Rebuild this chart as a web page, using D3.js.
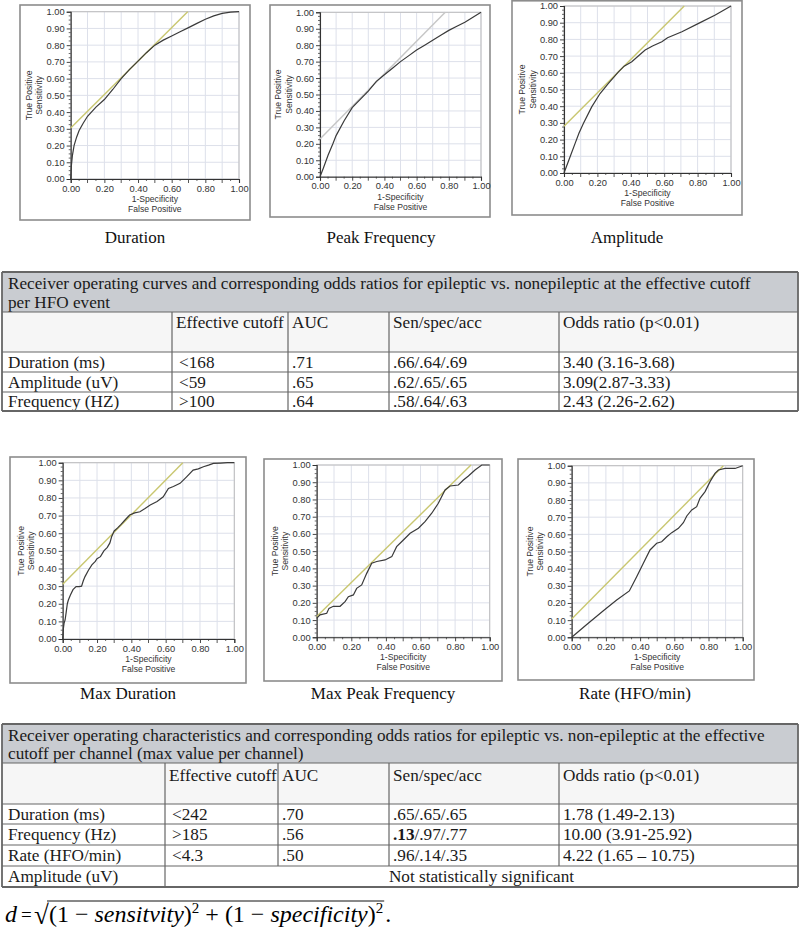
<!DOCTYPE html>
<html><head><meta charset="utf-8">
<script src="https://cdn.jsdelivr.net/npm/d3@7"></script>
<style>body{margin:0;background:#fff}</style>
</head><body>
<svg id="c" width="800" height="932"></svg>
<script>
// ---------------- DATA ----------------
const chartTitles = ["Duration", "Peak Frequency", "Amplitude", "Max Duration", "Max Peak Frequency", "Rate (HFO/min)"];

const durationFPR = [0,0.004,0.01,0.02,0.035,0.05,0.075,0.1,0.15,0.2,0.25,0.3,0.35,0.4,0.45,0.5,0.55,0.6,0.65,0.7,0.75,0.8,0.85,0.9,0.95,1];
const durationTPR = [0,0.08,0.14,0.2,0.25,0.29,0.335,0.375,0.43,0.475,0.535,0.6,0.655,0.705,0.755,0.8,0.83,0.855,0.88,0.905,0.93,0.955,0.975,0.99,0.998,1];

const peakFreqFPR = [0,0.02,0.05,0.08,0.1,0.15,0.2,0.25,0.3,0.35,0.4,0.45,0.5,0.55,0.6,0.65,0.7,0.75,0.8,0.85,0.9,0.95,1];
const peakFreqTPR = [0,0.05,0.13,0.2,0.25,0.34,0.42,0.47,0.52,0.58,0.62,0.66,0.7,0.735,0.77,0.8,0.83,0.86,0.89,0.915,0.94,0.97,1];

const amplitudeFPR = [0,0.036,0.066,0.09,0.116,0.166,0.216,0.266,0.326,0.36,0.406,0.45,0.486,0.53,0.586,0.62,0.706,0.806,0.906,1];
const amplitudeTPR = [0,0.096,0.176,0.24,0.296,0.396,0.476,0.536,0.606,0.64,0.666,0.705,0.736,0.76,0.786,0.81,0.846,0.896,0.946,1];

const maxDurationFPR = [0,0.004,0.008,0.014,0.02,0.027,0.033,0.045,0.06,0.078,0.095,0.11,0.12,0.13,0.15,0.17,0.19,0.2,0.22,0.24,0.26,0.275,0.285,0.3,0.32,0.34,0.363,0.39,0.42,0.45,0.48,0.51,0.55,0.586,0.616,0.645,0.684,0.722,0.76,0.79,0.82,0.85,0.878,0.92,0.96,1];
const maxDurationTPR = [0,0.06,0.09,0.108,0.15,0.2,0.221,0.25,0.28,0.297,0.297,0.3,0.33,0.354,0.39,0.42,0.44,0.455,0.467,0.5,0.52,0.545,0.58,0.613,0.63,0.65,0.675,0.703,0.715,0.722,0.74,0.76,0.78,0.807,0.854,0.865,0.883,0.92,0.958,0.965,0.977,0.986,0.996,0.998,1,1];

const maxPeakFreqFPR = [0,0.019,0.058,0.071,0.096,0.135,0.164,0.183,0.212,0.231,0.26,0.289,0.318,0.347,0.395,0.434,0.462,0.501,0.54,0.588,0.626,0.665,0.703,0.742,0.771,0.819,0.848,0.877,0.915,0.954,1];
const maxPeakFreqTPR = [0.11,0.13,0.139,0.168,0.18,0.18,0.207,0.236,0.246,0.284,0.304,0.371,0.43,0.44,0.449,0.468,0.526,0.565,0.604,0.633,0.671,0.72,0.778,0.855,0.878,0.884,0.913,0.936,0.971,1,1];

const rateFPR = [0,0.088,0.185,0.263,0.337,0.38,0.419,0.458,0.497,0.526,0.556,0.585,0.624,0.653,0.673,0.702,0.731,0.75,0.78,0.809,0.838,0.858,0.897,0.955,1];
const rateTPR = [0,0.075,0.155,0.217,0.27,0.353,0.431,0.509,0.548,0.557,0.586,0.61,0.635,0.668,0.707,0.742,0.761,0.81,0.849,0.907,0.955,0.975,0.984,0.984,1];

// tangent (cutoff) lines: intercept and slope
const tangentIntercepts = [0.305, 0.23, 0.28, 0.31, 0.12, 0.107];
const tangentSlopes = [1.0, 0.99, 1.0, 0.986, 0.987, 1.007];
const tangentColors = ["#c9c770", "#c6c6c6", "#c9c770", "#c9c770", "#c9c770", "#c9c770"];

const yTickValues = [0,0.1,0.2,0.3,0.4,0.5,0.6,0.7,0.8,0.9,1];
const yTickLabels = ["0.00","0.10","0.20","0.30","0.40","0.50","0.60","0.70","0.80","0.90","1.00"];
const xTickValues = [0,0.2,0.4,0.6,0.8,1];
const xTickLabels = ["0.00","0.20","0.40","0.60","0.80","1.00"];
const yAxisTitle = ["True Positive", "Sensitivity"];
const xAxisTitle = ["1-Specificity", "False Positive"];

const tableColumns = ["", "Effective cutoff", "AUC", "Sen/spec/acc", "Odds ratio (p<0.01)"];
const table1Title = ["Receiver operating curves and corresponding odds ratios for epileptic vs. nonepileptic at the effective cutoff", "per HFO event"];
const table1Rows = [
  ["Duration (ms)", "<168", ".71", ".66/.64/.69", "3.40 (3.16-3.68)"],
  ["Amplitude (uV)", "<59", ".65", ".62/.65/.65", "3.09(2.87-3.33)"],
  ["Frequency (HZ)", ">100", ".64", ".58/.64/.63", "2.43 (2.26-2.62)"]
];
const table2Title = ["Receiver operating characteristics and corresponding odds ratios for epileptic vs. non-epileptic at the effective", "cutoff per channel (max value per channel)"];
const table2Rows = [
  ["Duration (ms)", "<242", ".70", ".65/.65/.65", "1.78 (1.49-2.13)"],
  ["Frequency (Hz)", ">185", ".56", ".13/.97/.77", "10.00 (3.91-25.92)"],
  ["Rate (HFO/min)", "<4.3", ".50", ".96/.14/.35", "4.22 (1.65 \u2013 10.75)"]
];
const table2BoldPrefix = [null, ".13", null];
const table2Footer = ["Amplitude (uV)", "Not statistically significant"];

// ---------------- LAYOUT ----------------
const svg = d3.select("#c");
const charts = [
  {fpr: durationFPR, tpr: durationTPR, box:[20,5,250,220], plot:[70.7,11.7,239,179], title:[135,243]},
  {fpr: peakFreqFPR, tpr: peakFreqTPR, box:[270,5,490,217], plot:[320,12.3,481,176.7], title:[381,243]},
  {fpr: amplitudeFPR, tpr: amplitudeTPR, box:[512,0.8,742,215], plot:[564,6,731,173], title:[627,243]},
  {fpr: maxDurationFPR, tpr: maxDurationTPR, box:[10,457,246,683], plot:[62.7,462.7,234.3,639], title:[128,699]},
  {fpr: maxPeakFreqFPR, tpr: maxPeakFreqTPR, box:[264,459,502,681], plot:[316.7,465,489.7,637.3], title:[383,699]},
  {fpr: rateFPR, tpr: rateTPR, box:[518,459,754,680], plot:[571.7,465.7,742.7,637.3], title:[635,699]}
];
const sans = "'Liberation Sans', Arial, sans-serif";
const serif = "'Liberation Serif', 'Times New Roman', serif";

charts.forEach((c, i) => {
  const g = svg.append("g");
  const [bx0, by0, bx1, by1] = c.box;
  const [px0, py0, px1, py1] = c.plot;
  const x = d3.scaleLinear().domain([0, 1]).range([px0, px1]);
  const y = d3.scaleLinear().domain([0, 1]).range([py1, py0]);

  g.append("rect").attr("x", bx0).attr("y", by0).attr("width", bx1 - bx0).attr("height", by1 - by0)
    .attr("fill", "#fff").attr("stroke", "#8c8c8c").attr("stroke-width", 1.6);

  const grid = d3.range(0, 11).map(k => k / 10);
  g.selectAll(".gx").data(grid).join("line")
    .attr("x1", d => x(d)).attr("x2", d => x(d)).attr("y1", py0).attr("y2", py1)
    .attr("stroke", "#dde0ea").attr("stroke-width", 1);
  g.selectAll(".gy").data(grid).join("line")
    .attr("y1", d => y(d)).attr("y2", d => y(d)).attr("x1", px0).attr("x2", px1)
    .attr("stroke", "#dde0ea").attr("stroke-width", 1);
  g.append("rect").attr("x", px0).attr("y", py0).attr("width", px1 - px0).attr("height", py1 - py0)
    .attr("fill", "none").attr("stroke", "#bdbdbd").attr("stroke-width", 1);

  const yMinor = d3.range(0, 41).map(k => k / 40).filter(v => Math.round(v * 40) % 4 !== 0);
  g.selectAll(".ym").data(yMinor).join("line")
    .attr("x1", px0 - 2).attr("x2", px0).attr("y1", d => y(d)).attr("y2", d => y(d))
    .attr("stroke", "#444").attr("stroke-width", 0.8);
  const xMinor = d3.range(0, 21).map(k => k / 20).filter(v => Math.round(v * 20) % 2 !== 0);
  g.selectAll(".xm").data(xMinor).join("line")
    .attr("y1", py1).attr("y2", py1 + 2).attr("x1", d => x(d)).attr("x2", d => x(d))
    .attr("stroke", "#444").attr("stroke-width", 0.8);
  const xMid = [0.1, 0.3, 0.5, 0.7, 0.9];
  g.selectAll(".xmid").data(xMid).join("line")
    .attr("y1", py1).attr("y2", py1 + 4).attr("x1", d => x(d)).attr("x2", d => x(d))
    .attr("stroke", "#444").attr("stroke-width", 0.9);

  const yAxis = d3.axisLeft(y).tickValues(yTickValues).tickFormat((d, k) => yTickLabels[k]).tickSize(4).tickPadding(2);
  const xAxis = d3.axisBottom(x).tickValues(xTickValues).tickFormat((d, k) => xTickLabels[k]).tickSize(4).tickPadding(2);
  const ya = g.append("g").attr("transform", `translate(${px0},0)`).call(yAxis);
  const xa = g.append("g").attr("transform", `translate(0,${py1})`).call(xAxis);
  [ya, xa].forEach(a => {
    a.select(".domain").attr("stroke", "#333").attr("stroke-width", 1.1);
    a.selectAll(".tick line").attr("stroke", "#333").attr("stroke-width", 0.9);
    a.selectAll(".tick text").attr("fill", "#333").style("font-family", sans).style("font-size", "9.3px");
  });

  const ymid = (py0 + py1) / 2;
  yAxisTitle.forEach((t, k) => {
    g.append("text").attr("transform", `translate(${px0 - 39 + k * 10.5},${ymid}) rotate(-90)`)
      .attr("text-anchor", "middle").attr("fill", "#333")
      .style("font-family", sans).style("font-size", "8.6px").text(t);
  });
  const xmid = (px0 + px1) / 2;
  xAxisTitle.forEach((t, k) => {
    g.append("text").attr("x", xmid).attr("y", py1 + 23 + k * 10)
      .attr("text-anchor", "middle").attr("fill", "#333")
      .style("font-family", sans).style("font-size", "8.6px").text(t);
  });

  const b = tangentIntercepts[i], m = tangentSlopes[i];
  const xEnd = Math.min(1, (1 - b) / m);
  g.append("line").attr("x1", x(0)).attr("y1", y(b)).attr("x2", x(xEnd)).attr("y2", y(b + m * xEnd))
    .attr("stroke", tangentColors[i]).attr("stroke-width", 1.4);

  const pts = c.fpr.map((v, k) => [v, c.tpr[k]]);
  g.append("path").datum(pts)
    .attr("d", d3.line().x(d => x(d[0])).y(d => y(d[1])))
    .attr("fill", "none").attr("stroke", "#3a3a3a").attr("stroke-width", 1.2);

  g.append("text").attr("x", c.title[0]).attr("y", c.title[1]).attr("text-anchor", "middle")
    .attr("fill", "#111").style("font-family", serif).style("font-size", "17px").text(chartTitles[i]);
});

// ---------------- TABLES ----------------
const borderColor = "#666";
function drawTable(cfg) {
  const g = svg.append("g");
  const rowsY = cfg.rowsY, cols = cfg.cols;
  const L = cols[0], R = cols[cols.length - 1];
  g.append("rect").attr("x", L).attr("y", rowsY[0]).attr("width", R - L).attr("height", rowsY[1] - rowsY[0]).attr("fill", "#c9ccd1");
  g.append("rect").attr("x", L).attr("y", rowsY[1]).attr("width", R - L).attr("height", rowsY[2] - rowsY[1]).attr("fill", "#f6f6f6");
  cfg.title.forEach((t, k) => {
    g.append("text").attr("x", L + 6).attr("y", cfg.titleBase[k]).attr("fill", "#1a1a1a")
      .style("font-family", serif).style("font-size", cfg.fs + "px").text(t);
  });
  tableColumns.forEach((t, k) => {
    if (!t) return;
    g.append("text").attr("x", cols[k] + 4).attr("y", cfg.headBase).attr("fill", "#1a1a1a")
      .style("font-family", serif).style("font-size", cfg.fs + "px").text(t);
  });
  cfg.rows.forEach((r, ri) => {
    const base = (rowsY[ri + 2] + rowsY[ri + 3]) / 2 + 5.8;
    r.forEach((t, k) => {
      const tx = g.append("text").attr("x", cols[k] + (k === 1 ? 7 : (k === 0 ? 6 : 4))).attr("y", base).attr("fill", "#1a1a1a")
        .style("font-family", serif).style("font-size", cfg.fs + "px");
      const bp = cfg.bold ? cfg.bold[ri] : null;
      if (k === 3 && bp && t.startsWith(bp)) {
        tx.append("tspan").style("font-weight", "bold").text(bp);
        tx.append("tspan").text(t.slice(bp.length));
      } else tx.text(t);
    });
  });
  const lastRowIdx = cfg.rows.length + 2;
  if (cfg.footer) {
    const y0 = rowsY[lastRowIdx], y1 = rowsY[lastRowIdx + 1];
    const base = (y0 + y1) / 2 + 5.8;
    g.append("text").attr("x", cols[0] + 6).attr("y", base).attr("fill", "#1a1a1a")
      .style("font-family", serif).style("font-size", cfg.fs + "px").text(cfg.footer[0]);
    g.append("text").attr("x", (cols[1] + R) / 2).attr("y", base).attr("text-anchor", "middle").attr("fill", "#1a1a1a")
      .style("font-family", serif).style("font-size", cfg.fs + "px").text(cfg.footer[1]);
  }
  const bottom = rowsY[rowsY.length - 1];
  rowsY.forEach((yy, k) => {
    g.append("line").attr("x1", L).attr("x2", R).attr("y1", yy).attr("y2", yy)
      .attr("stroke", borderColor).attr("stroke-width", (k === 0 || k === rowsY.length - 1) ? 1.8 : 1.2);
  });
  cols.forEach((xx, k) => {
    const y0 = (k === 0 || k === cols.length - 1) ? rowsY[0] : rowsY[1];
    let y1 = bottom;
    if (cfg.footer && k > 1 && k < cols.length - 1) y1 = rowsY[rowsY.length - 2];
    g.append("line").attr("x1", xx).attr("x2", xx).attr("y1", y0).attr("y2", y1)
      .attr("stroke", borderColor).attr("stroke-width", (k === 0 || k === cols.length - 1) ? 1.8 : 1.2);
  });
}

drawTable({rowsY: [272, 312, 352, 372, 392, 411], cols: [2, 172, 288, 389, 559, 798],
  title: table1Title, titleBase: [289, 308], headBase: 328, rows: table1Rows, fs: 17.2});
drawTable({rowsY: [724, 763, 804, 824, 845, 866, 887], cols: [2, 165, 278, 389, 559, 798],
  title: table2Title, titleBase: [741, 759], headBase: 781, rows: table2Rows, bold: table2BoldPrefix, footer: table2Footer, fs: 17.2});

// ---------------- FORMULA ----------------
const fg = svg.append("g");
const fFont = "'Liberation Serif', 'DejaVu Serif', serif";
const fs = 24, fBase = 922;
fg.append("text").attr("x", 5).attr("y", fBase).style("font-family", fFont).style("font-size", fs + "px")
  .style("font-style", "italic").text("d");
fg.append("text").attr("x", 21).attr("y", fBase - 1).style("font-family", fFont).style("font-size", "19px").text("=");
fg.append("text").attr("x", 34).attr("y", fBase + 2).style("font-family", fFont).style("font-size", (fs + 3) + "px").text("\u221A");
const rad = fg.append("text").attr("x", 49).attr("y", fBase).style("font-family", fFont).style("font-size", fs + "px");
rad.append("tspan").text("(1 \u2212 ");
rad.append("tspan").style("font-style", "italic").text("sensitvity");
rad.append("tspan").text(")");
rad.append("tspan").attr("dy", -9).style("font-size", "15px").text("2");
rad.append("tspan").attr("dy", 9).text(" + (1 \u2212 ");
rad.append("tspan").style("font-style", "italic").text("specificity");
rad.append("tspan").text(")");
rad.append("tspan").attr("dy", -9).style("font-size", "15px").text("2");
const rw = rad.node().getComputedTextLength();
fg.append("line").attr("x1", 47).attr("x2", 49 + rw + 1).attr("y1", fBase - 21).attr("y2", fBase - 21).attr("stroke", "#111").attr("stroke-width", 1);
fg.append("text").attr("x", 49 + rw + 2).attr("y", fBase).style("font-family", fFont).style("font-size", fs + "px").text(".");
</script>
</body></html>
